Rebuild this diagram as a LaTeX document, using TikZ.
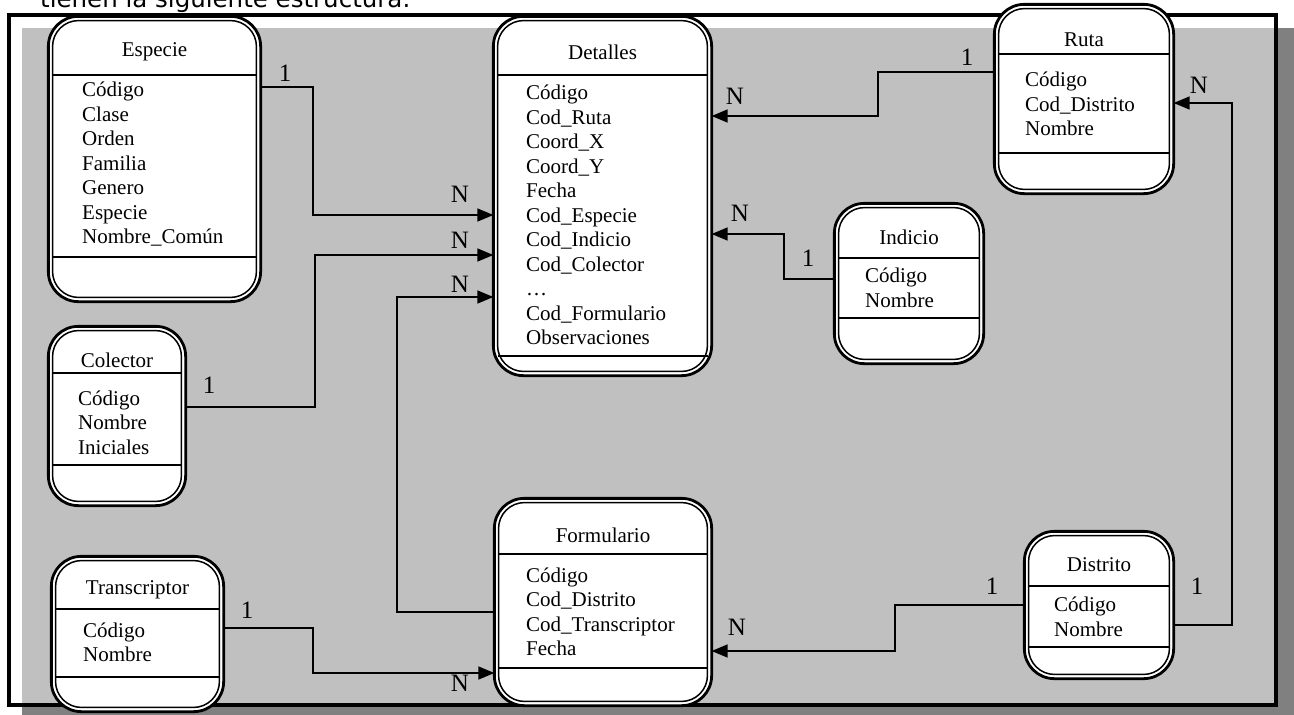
\documentclass[tikz,border=0pt]{standalone}
\usepackage{fontspec}
\setmainfont{Liberation Serif}
\newfontfamily\topfont{DejaVu Sans}
\usetikzlibrary{arrows.meta,calc}
\definecolor{lgray}{HTML}{C0C0C0}
\definecolor{dgray}{HTML}{808080}

\newcommand\entitybox[9]{%
  \node[entity, minimum width={#4-#2-2.7}, minimum height={#5-#3-2.7}] (#1) at ({(#2+#4)/2},{(#3+#5)/2}) {};
  \draw[innerline] ($(#1.north west)+(4.2,4.2)$) rectangle ($(#1.south east)+(-4.2,-4.2)$);
  \node[ttl] (#1-t) at ({(#2+#4)/2},#7) {#6};
  \draw[sepline] ({#2+5.5},#8) -- ({#4-5.5},#8);
  \draw[sepline] ({#2+5.5},#9) -- ({#4-5.5},#9);
}

\begin{document}
\begin{tikzpicture}[x=1pt,y=-1pt,
  entity/.style={draw=black, fill=white, line width=2.8pt, rounded corners=30pt, inner sep=0pt, outer sep=0pt},
  innerline/.style={draw=black, line width=1.5pt, rounded corners=26pt},
  sepline/.style={draw=black, line width=1.8pt},
  ttl/.style={font=\fontsize{21}{24.5}\selectfont, inner sep=0pt},
  attrs/.style={font=\fontsize{21}{24.5}\selectfont, align=left, anchor=west, inner sep=0pt},
  card/.style={font=\fontsize{25}{28}\selectfont, inner sep=0pt},
  conn/.style={draw=black, line width=1.5pt, -{Triangle[length=16pt,width=13pt]}},
]
\useasboundingbox (0,0) rectangle (1294,715);
% top text (cut off at the top edge, as in the source)
\node[anchor=base west, font=\topfont\fontsize{24.5}{28}\selectfont, inner sep=0pt] (toptext) at (40,7) {tienen la siguiente estructura:};
% frame with shadow
\fill[dgray] (22,28) rectangle (1300,720);
\fill[white] (9,14.5) rectangle (1275.5,705);
\fill[lgray] (22,28) rectangle (1275.5,705);
\draw[line width=4pt] (9,14.5) rectangle (1275.5,705);

% entities
\entitybox{esp}{47}{15}{262}{303}{Especie}{52}{75}{257}
\entitybox{det}{492}{15}{713}{377}{Detalles}{52}{75}{356}
\entitybox{ruta}{993}{3}{1175}{195}{Ruta}{40}{54}{153}
\entitybox{col}{47}{325}{187}{507}{Colector}{360}{373}{465}
\entitybox{tra}{50}{555}{225}{713}{Transcriptor}{590}{609}{677}
\entitybox{form}{493}{497}{713}{707}{Formulario}{535}{554}{668}
\entitybox{dis}{1023}{530}{1175}{680}{Distrito}{565}{586}{647}
\entitybox{ind}{833}{202}{985}{365}{Indicio}{237}{258}{318}

\node[attrs] (esp-a) at (82,{(90.7+238)/2}) {Código\\Clase\\Orden\\Familia\\Genero\\Especie\\Nombre\_Común};
\node[attrs] (det-a) at (526,{(92+338)/2}) {Código\\Cod\_Ruta\\Coord\_X\\Coord\_Y\\Fecha\\Cod\_Especie\\Cod\_Indicio\\Cod\_Colector\\…\\Cod\_Formulario\\Observaciones};
\node[attrs] (ruta-a) at (1025,104) {Código\\Cod\_Distrito\\Nombre};
\node[attrs] (col-a) at (78,{(398+447)/2}) {Código\\Nombre\\Iniciales};
\node[attrs] (tra-a) at (83,{(630+655)/2}) {Código\\Nombre};
\node[attrs] (form-a) at (526,{(575+649)/2}) {Código\\Cod\_Distrito\\Cod\_Transcriptor\\Fecha};
\node[attrs] (dis-a) at (1054,{(605+629)/2}) {Código\\Nombre};
\node[attrs] (ind-a) at (865,{(276+300)/2}) {Código\\Nombre};

% connectors (drawn between named nodes)
\draw[conn] (esp.east |- 0,87) -- (313,87) -- (313,215) -- (det.west |- 0,215);
\draw[conn] (col.east |- 0,407) -- (315,407) -- (315,255) -- (det.west |- 0,255);
\draw[conn] (form.west |- 0,612) -- (397,612) -- (397,297) -- (det.west |- 0,297);
\draw[conn] (tra.east |- 0,628) -- (313,628) -- (313,673) -- (form.west |- 0,673);
\draw[conn] (dis.west |- 0,605) -- (895,605) -- (895,651) -- (form.east |- 0,651);
\draw[conn] (dis.east |- 0,625) -- (1232,625) -- (1232,103) -- (ruta.east |- 0,103);
\draw[conn] (ruta.west |- 0,72) -- (878,72) -- (878,116) -- (det.east |- 0,116);
\draw[conn] (ind.west |- 0,279) -- (784,279) -- (784,234) -- (det.east |- 0,234);

% cardinalities
\node[card] (k1) at (285,73) {1};
\node[card] (k2) at (460,194) {N};
\node[card] (k3) at (209,385) {1};
\node[card] (k4) at (460,240) {N};
\node[card] (k5) at (460,284) {N};
\node[card] (k6) at (247,610) {1};
\node[card] (k7) at (460,683) {N};
\node[card] (k8) at (992,586) {1};
\node[card] (k9) at (737,627) {N};
\node[card] (k10) at (1197,586) {1};
\node[card] (k11) at (1199,85) {N};
\node[card] (k12) at (967,57) {1};
\node[card] (k13) at (735,96) {N};
\node[card] (k14) at (740,213) {N};
\node[card] (k15) at (808,258) {1};
\end{tikzpicture}
\end{document}
